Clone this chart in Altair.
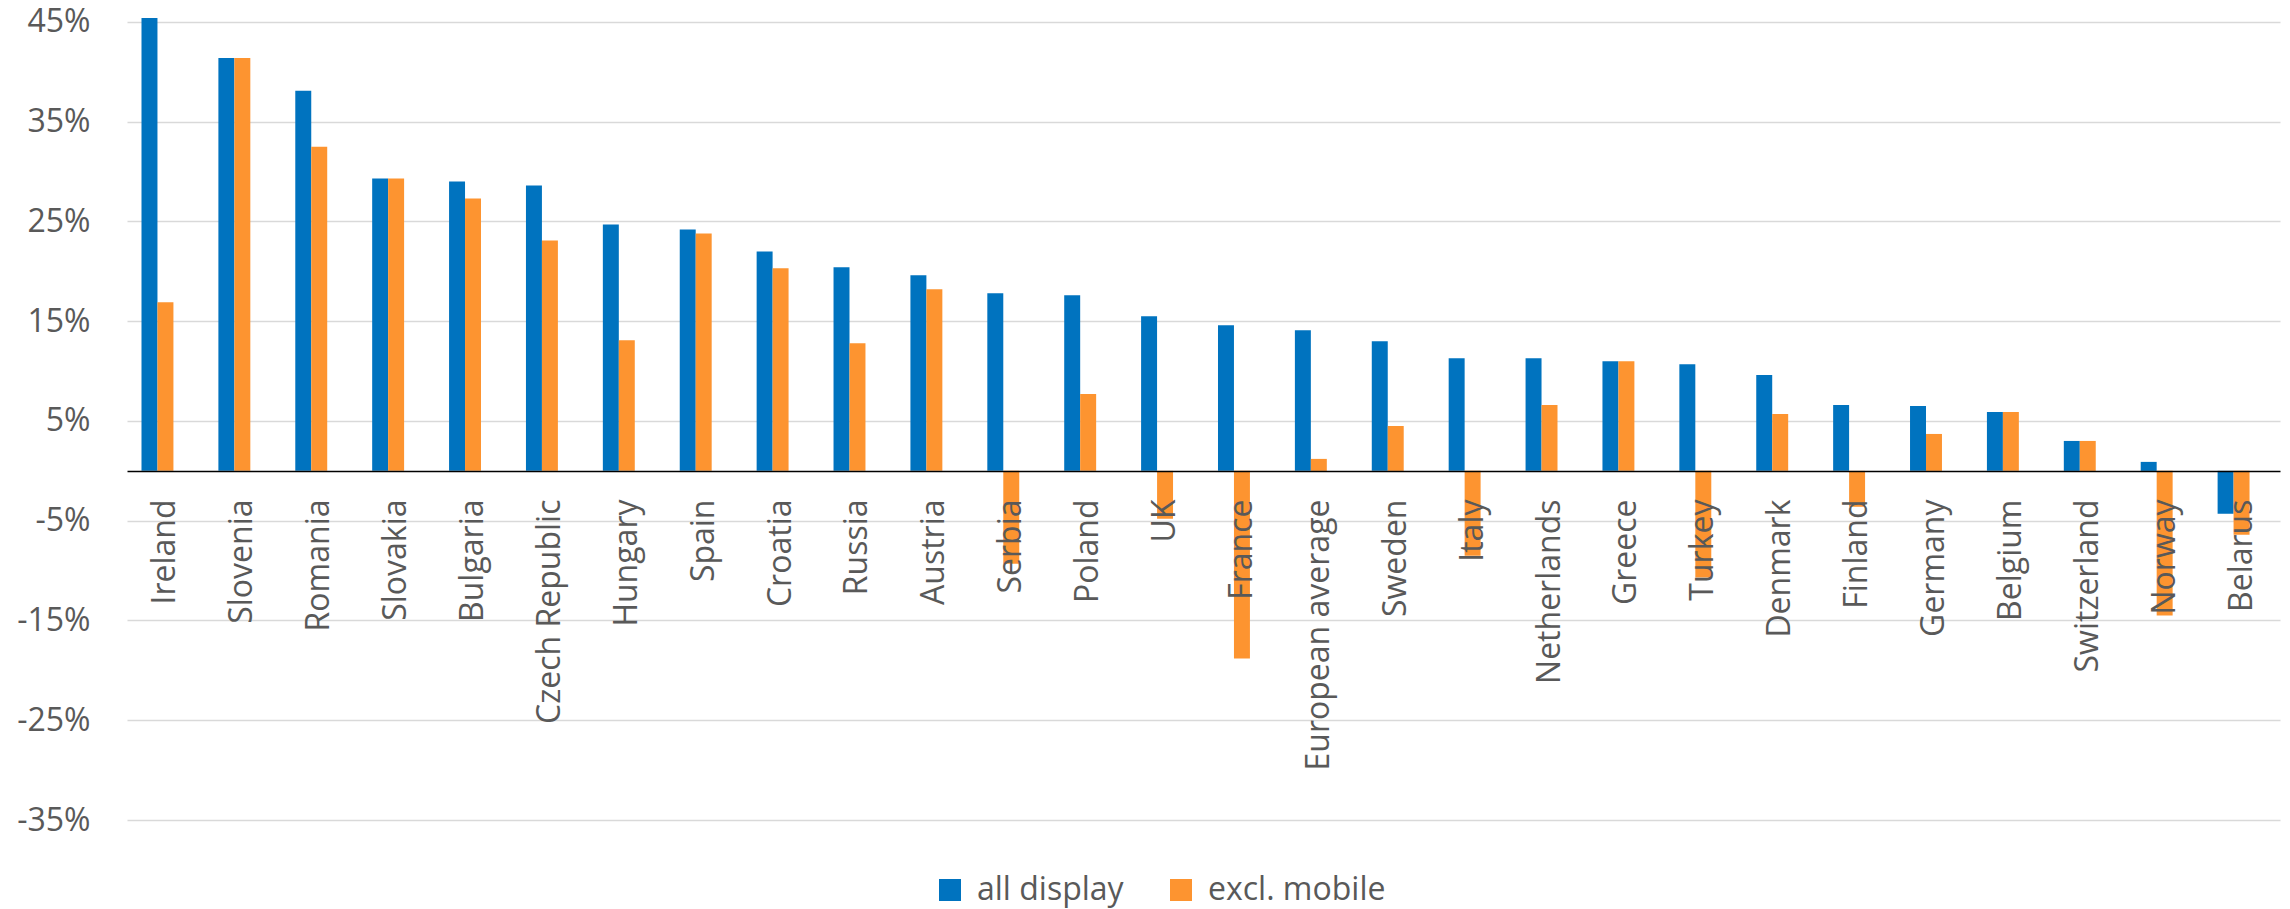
import altair as alt
import pandas as pd

# Growth by country, two measures (percent)
countries = [
    "Ireland", "Slovenia", "Romania", "Slovakia", "Bulgaria", "Czech Republic",
    "Hungary", "Spain", "Croatia", "Russia", "Austria", "Serbia", "Poland", "UK",
    "France", "European average", "Sweden", "Italy", "Netherlands", "Greece",
    "Turkey", "Denmark", "Finland", "Germany", "Belgium", "Switzerland",
    "Norway", "Belarus",
]
all_display = [
    45.4, 41.4, 38.1, 29.3, 29.0, 28.6, 24.7, 24.2, 22.0, 20.4, 19.6, 17.8,
    17.6, 15.5, 14.6, 14.1, 13.0, 11.3, 11.3, 11.0, 10.7, 9.6, 6.6, 6.5,
    5.9, 3.0, 0.9, -4.3,
]
excl_mobile = [
    16.9, 41.4, 32.5, 29.3, 27.3, 23.1, 13.1, 23.8, 20.3, 12.8, 18.2, -9.3,
    7.7, -4.8, -18.8, 1.2, 4.5, -8.5, 6.6, 11.0, -10.7, 5.7, -3.6, 3.7,
    5.9, 3.0, -14.5, -6.4,
]
series_names = ["all display", "excl. mobile"]
series_colors = ["#0073BF", "#FD9430"]
y_ticks = [-0.35, -0.25, -0.15, -0.05, 0.05, 0.15, 0.25, 0.35, 0.45]

rows = []
for c, a, e in zip(countries, all_display, excl_mobile):
    rows.append({"country": c, "series": series_names[0], "value": a / 100})
    rows.append({"country": c, "series": series_names[1], "value": e / 100})
df = pd.DataFrame(rows)

FONT = "Open Sans"
TEXT = "#595959"

chart = (
    alt.Chart(df)
    .mark_bar()
    .encode(
        x=alt.X(
            "country:N",
            sort=countries,
            scale=alt.Scale(paddingInner=0.377, paddingOuter=0.1885),
            axis=alt.Axis(
                title=None,
                labelAngle=-90,
                offset=-349,
                ticks=False,
                tickSize=0,
                labelPadding=28,
                labelLimit=0,
                domainColor="#000000",
                domainWidth=1.5,
                labelFontSize=32,
                labelColor=TEXT,
                labelFont=FONT,
                zindex=1,
            ),
        ),
        # third slot left empty so each pair sits left of the band centre
        xOffset=alt.XOffset(
            "series:N",
            scale=alt.Scale(domain=series_names + ["(blank)"], paddingInner=0, paddingOuter=0),
        ),
        y=alt.Y(
            "value:Q",
            stack=None,
            scale=alt.Scale(domain=[-0.35, 0.46], nice=False),
            axis=alt.Axis(
                title=None,
                values=y_ticks,
                domain=False,
                ticks=False,
                tickSize=0,
                labelPadding=37,
                gridColor="#d9d9d9",
                gridWidth=1.5,
                labelExpr="round(datum.value * 100) + '%'",
                labelFontSize=32,
                labelColor=TEXT,
                labelFont=FONT,
            ),
        ),
        y2=alt.datum(0),
        color=alt.Color(
            "series:N",
            scale=alt.Scale(domain=series_names, range=series_colors),
            legend=alt.Legend(
                title=None,
                orient="none",
                direction="horizontal",
                legendX=807,
                legendY=862,
                symbolType="square",
                symbolSize=484,
                symbolStrokeWidth=0,
                labelFontSize=32,
                labelFont=FONT,
                labelColor=TEXT,
                labelLimit=0,
                labelOffset=11,
                columnPadding=41,
            ),
        ),
    )
    .properties(
        width=2153,
        height=808,
        autosize="none",
        padding={"left": 127, "top": 12, "right": 10, "bottom": 89},
    )
    .configure_view(strokeWidth=0)
)

chart.save("out.html", embed_options={"renderer": "svg", "actions": False})
